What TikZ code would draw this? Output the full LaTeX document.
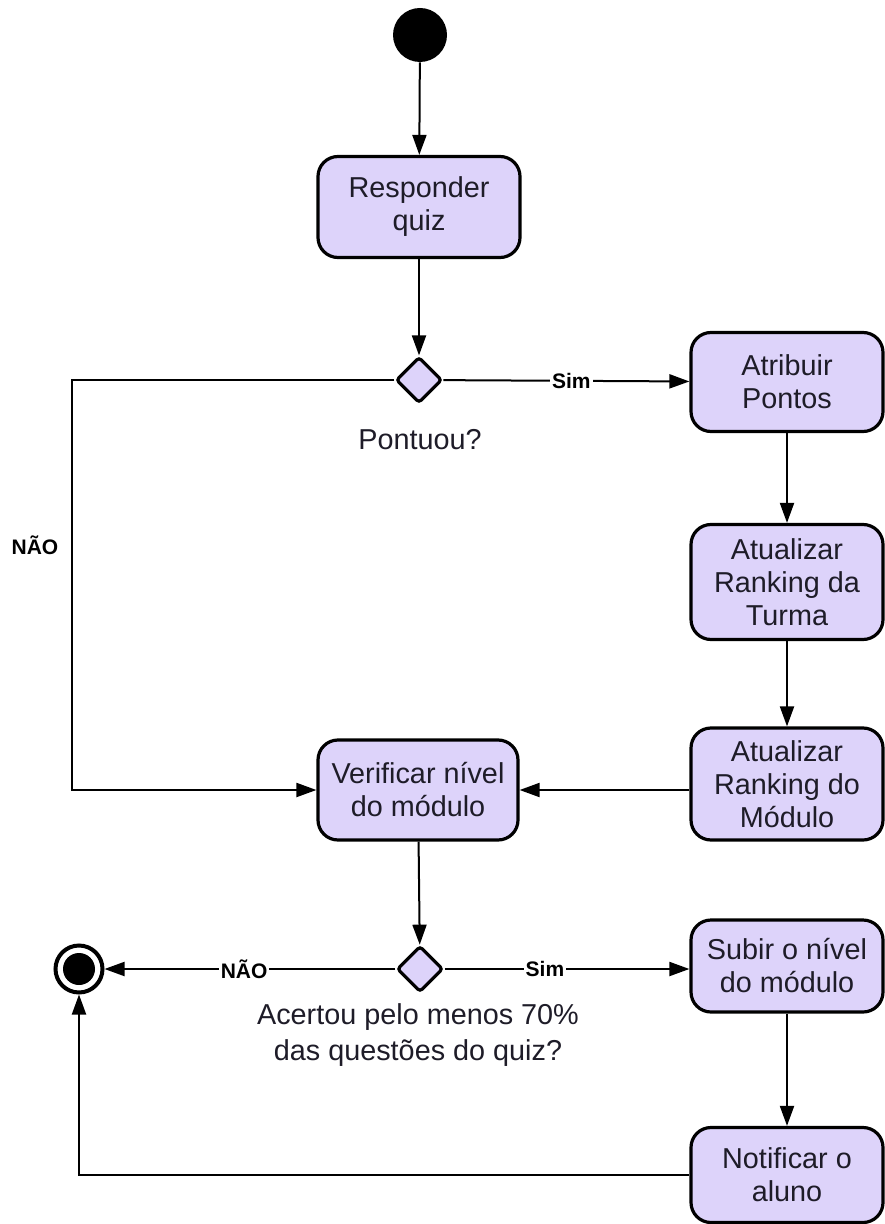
\documentclass[tikz,border=0pt]{standalone}
\usepackage{fontspec}
\setmainfont{Liberation Sans}
\usetikzlibrary{shapes.geometric, arrows.meta}

\definecolor{lilas}{RGB}{221,211,250}
\definecolor{texto}{RGB}{30,28,40}

\begin{document}
\begin{tikzpicture}[x=0.5pt, y=-0.5pt,
    acao/.style={draw, line width=1.6pt, rounded corners=10pt, fill=lilas,
      text=texto, align=center, inner sep=2pt,
      font=\fontsize{14.4}{16.5}\selectfont},
    decisao/.style={diamond, draw, line width=1.6pt, fill=lilas,
      rounded corners=1.5pt, inner sep=0pt, minimum size=23pt},
    seta/.style={line width=1pt, -{Triangle[length=10pt, width=7pt]}},
    rotulo/.style={fill=white, inner sep=1pt,
      font=\fontsize{10.5}{12}\bfseries\selectfont}]
    \def\esq{318} \def\dir{787}

    \useasboundingbox (0, 0) rectangle (884, 1224);

    % coluna do meio
    \node [circle, fill=black, inner sep=0pt, minimum size=27pt] (inicio)
    at (420, 35) {};

    \node [acao, minimum width=101pt, minimum height=50.5pt] (responder)
    at (419, 207) {Responder\\quiz};

    \node [decisao] (pontuou) at (419, 380) {};
    \node [text=texto, font=\fontsize{14.4}{16.5}\selectfont] (txtpontuou)
    at (420, 440) {Pontuou?};

    \node [acao, minimum width=100pt, minimum height=50pt] (verificar)
    at (418, 790) {Verificar nível\\do módulo};

    \node [decisao] (acertou) at (420, 969) {};
    \node [text=texto, align=center, font=\fontsize{14.4}{18}\selectfont]
    (txtacertou) at (418, 1035)
    {Acertou pelo menos 70\%\\das questões do quiz?};

    % coluna da direita
    \node [acao, minimum width=96pt, minimum height=49.5pt] (atribuir)
    at (\dir, 382) {Atribuir\\Pontos};

    \node [acao, minimum width=96pt, minimum height=57.5pt] (turma)
    at (\dir, 582) {Atualizar\\Ranking da\\Turma};

    \node [acao, minimum width=96pt, minimum height=56pt] (modulo)
    at (\dir, 784) {Atualizar\\Ranking do\\Módulo};

    \node [acao, minimum width=96pt, minimum height=46pt] (subir)
    at (\dir, 966) {Subir o nível\\do módulo};

    \node [acao, minimum width=96pt, minimum height=47.5pt] (notificar)
    at (\dir, 1175) {Notificar o\\aluno};

    % fim
    \node [circle, draw, line width=2pt, inner sep=0pt, minimum size=23.5pt]
    (fim) at (79, 969) {};
    \node [circle, fill=black, inner sep=0pt, minimum size=16pt] (fimmeio)
    at (fim) {};

    \coordinate (canto) at (72, 790);
    \node [rotulo] (naoum) at (35, 545) {NÃO};

    \draw [seta] (inicio) -- (responder);
    \draw [seta] (responder) -- (pontuou);
    \draw [seta] (pontuou) -- node [rotulo, pos=0.52] (simum) {Sim}
    (atribuir);
    \draw [seta] (atribuir) -- (turma);
    \draw [seta] (turma) -- (modulo);
    \draw [seta] (modulo.west |- verificar.east) -- (verificar.east);
    \draw [seta] (pontuou.west) -| (canto) -- (verificar.west);
    \draw [seta] (verificar) -- (acertou);
    \draw [seta] (acertou.east) -- node [rotulo, pos=0.41] (simdois) {Sim}
    (acertou.east -| subir.west);
    \draw [seta] (acertou) -- node [rotulo, pos=0.52] (naodois) {NÃO}
    (fim);
    \draw [seta] (subir) -- (notificar);
    \draw [seta] (notificar.west) -| (fim.south);

  \end{tikzpicture}
\end{document}
